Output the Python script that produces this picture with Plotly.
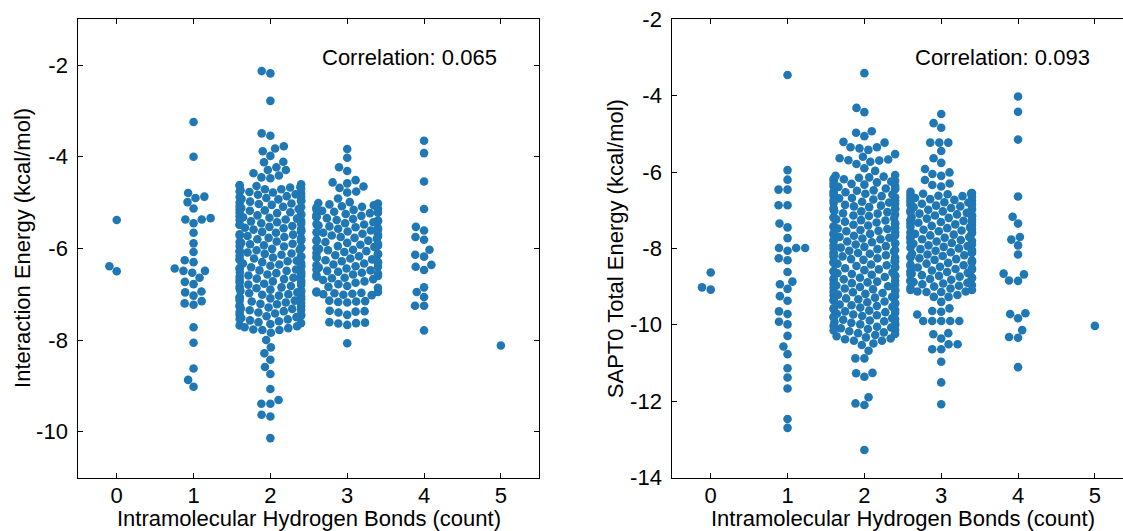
import numpy as np
import plotly.graph_objects as go

# ---------------- data ----------------
categories = [0, 1, 2, 3, 4, 5]
x_tick_labels = ["0", "1", "2", "3", "4", "5"]
ie_tick_vals = [-10, -8, -6, -4, -2]
ie_tick_labels = ["-10", "-8", "-6", "-4", "-2"]
sapt_tick_vals = [-14, -12, -10, -8, -6, -4, -2]
sapt_tick_labels = ["-14", "-12", "-10", "-8", "-6", "-4", "-2"]

x_title = "Intramolecular Hydrogen Bonds (count)"
ie_title = "Interaction Energy (kcal/mol)"
sapt_title = "SAPT0 Total Energy (kcal/mol)"
ie_corr_text = "Correlation: 0.065"
sapt_corr_text = "Correlation: 0.093"

# Interaction energy per H-bond count
ie_0 = [-5.38, -6.39, -6.50]
ie_1 = [-3.24, -4.00, -4.79, -4.87, -4.90, -4.99, -5.13, -5.34, -5.37, -5.37, -5.45,
        -5.66, -5.89, -6.08, -6.26, -6.30, -6.44, -6.49, -6.49, -6.53, -6.64, -6.73,
        -6.78, -6.94, -6.96, -7.03, -7.15, -7.20, -7.23, -7.72, -8.06, -8.62, -8.87, -9.02]
ie_2 = [-2.13, -2.18, -2.78, -3.49, -3.54, -3.77, -3.82, -3.88, -3.98, -4.11, -4.12,
        -4.23, -4.29, -4.29, -4.36, -4.41, -4.45, -4.47, -4.60, -4.62,
        -4.63, -4.64, -4.66, -4.67, -4.69, -4.71, -4.71, -4.73, -4.76, -4.77, -4.78,
        -4.80, -4.82, -4.83, -4.86, -4.87, -4.88, -4.90, -4.92, -4.93, -4.95, -4.97, -4.98,
        -5.00, -5.02, -5.03, -5.05, -5.08, -5.09, -5.10, -5.12, -5.14, -5.15, -5.17, -5.18,
        -5.21, -5.22, -5.23, -5.25, -5.27, -5.28, -5.30, -5.32, -5.33, -5.35, -5.37, -5.38,
        -5.40, -5.41, -5.43, -5.45, -5.46, -5.48, -5.49,
        -5.51, -5.53, -5.55, -5.56, -5.58, -5.59, -5.62, -5.63, -5.64, -5.66, -5.69, -5.70,
        -5.72, -5.73, -5.75, -5.77, -5.78, -5.80, -5.82, -5.83, -5.85, -5.86, -5.88, -5.90,
        -5.91, -5.93, -5.95, -5.96, -5.98, -5.99,
        -6.01, -6.03, -6.04, -6.06, -6.07, -6.09, -6.11, -6.12, -6.14, -6.16, -6.17, -6.19,
        -6.20, -6.22, -6.24, -6.25, -6.27, -6.28, -6.30, -6.32, -6.33, -6.35, -6.37, -6.38,
        -6.40, -6.41, -6.43, -6.45, -6.46, -6.48, -6.49,
        -6.51, -6.53, -6.54, -6.56, -6.57, -6.59, -6.61, -6.62, -6.64, -6.66, -6.67, -6.69,
        -6.70, -6.72, -6.74, -6.75, -6.77, -6.79, -6.80, -6.82, -6.83, -6.85, -6.87, -6.88,
        -6.90, -6.92, -6.93, -6.95, -6.96, -6.98,
        -7.00, -7.01, -7.03, -7.05, -7.06, -7.08, -7.09, -7.11, -7.13, -7.14, -7.16, -7.18,
        -7.19, -7.21, -7.22, -7.24, -7.26, -7.27, -7.29, -7.31, -7.32, -7.34, -7.35, -7.37,
        -7.39, -7.40, -7.42, -7.44, -7.45, -7.47, -7.48,
        -7.50, -7.52, -7.54, -7.55, -7.57, -7.59, -7.61, -7.63, -7.65, -7.68, -7.70, -7.72, -7.74,
        -7.77, -7.78, -7.78, -7.84, -8.00, -8.16, -8.29, -8.43, -8.59, -8.74, -9.07, -9.31,
        -9.39, -9.39, -9.63, -9.67, -10.14]
ie_3 = [-3.83, -4.02, -4.23, -4.31, -4.51, -4.56, -4.58, -4.65, -4.68, -4.76, -4.78, -4.91,
        -4.99, -5.01, -5.02, -5.04, -5.06, -5.08, -5.09, -5.11, -5.13, -5.15, -5.16, -5.18,
        -5.20, -5.22, -5.23, -5.25, -5.27, -5.29, -5.31, -5.32, -5.34, -5.36, -5.38, -5.39,
        -5.41, -5.43, -5.45, -5.47, -5.48,
        -5.50, -5.52, -5.54, -5.56, -5.57, -5.59, -5.61, -5.63, -5.65, -5.66, -5.68, -5.70,
        -5.72, -5.74, -5.75, -5.77, -5.79, -5.81, -5.83, -5.84, -5.86, -5.88, -5.90, -5.92,
        -5.94, -5.95, -5.97, -5.99,
        -6.01, -6.03, -6.04, -6.06, -6.08, -6.10, -6.12, -6.13, -6.15, -6.17, -6.19, -6.21,
        -6.22, -6.24, -6.26, -6.28, -6.30, -6.31, -6.33, -6.35, -6.37, -6.39, -6.40, -6.42,
        -6.44, -6.46, -6.48, -6.49,
        -6.51, -6.53, -6.55, -6.57, -6.58, -6.60, -6.62, -6.64, -6.65, -6.67, -6.69, -6.72,
        -6.75, -6.78,
        -6.82, -6.84, -6.86, -6.94, -6.95, -6.96, -6.97, -6.98, -6.99, -7.00, -7.01, -7.02,
        -7.14, -7.15, -7.16, -7.17, -7.18, -7.36, -7.37, -7.38, -7.40, -7.45, -7.61, -7.62,
        -7.63, -7.64, -7.67, -8.07]
ie_4 = [-3.65, -3.92, -4.54, -5.14, -5.53, -5.61, -5.75, -5.81, -6.03, -6.14, -6.18,
        -6.36, -6.40, -6.47, -6.85, -6.95, -7.06, -7.25, -7.25, -7.79]
ie_5 = [-8.12]

# SAPT0 total energy per H-bond count
sapt_0 = [-8.63, -9.02, -9.08]
sapt_1 = [-3.46, -5.95, -6.20, -6.46, -6.46, -6.87, -6.87, -7.35, -7.45, -7.73, -7.99,
          -7.99, -7.99, -8.06, -8.26, -8.31, -8.62, -8.87, -8.94, -9.06, -9.25, -9.37,
          -9.65, -9.72, -9.92, -9.99, -10.29, -10.57, -10.77, -11.14, -11.38, -11.67,
          -12.47, -12.70]
sapt_2 = [-3.41, -4.32, -4.43, -4.93, -4.97, -5.06, -5.21, -5.23, -5.35, -5.35, -5.38,
          -5.42, -5.53, -5.60, -5.64, -5.67, -5.69, -5.70, -5.73, -5.79, -5.90, -5.97,
          -6.08, -6.10,
          -6.12, -6.14, -6.15, -6.18, -6.19, -6.22, -6.23, -6.25, -6.27, -6.30, -6.31, -6.33,
          -6.36, -6.37, -6.39, -6.42, -6.43, -6.45, -6.48, -6.49,
          -6.51, -6.53, -6.56, -6.57, -6.59, -6.62, -6.63, -6.66, -6.68, -6.69, -6.72, -6.74,
          -6.75, -6.78, -6.80, -6.81, -6.84, -6.86, -6.88, -6.90, -6.92, -6.94, -6.96, -6.97, -6.99,
          -7.02, -7.03, -7.05, -7.08, -7.09, -7.11, -7.14, -7.15, -7.18, -7.20, -7.21, -7.24,
          -7.26, -7.27, -7.30, -7.32, -7.34, -7.36, -7.38, -7.40, -7.42, -7.44, -7.46, -7.48, -7.49,
          -7.52, -7.54, -7.55, -7.58, -7.60, -7.62, -7.64, -7.66, -7.67, -7.70, -7.72, -7.74,
          -7.76, -7.78, -7.80, -7.82, -7.84, -7.86, -7.88, -7.90, -7.92, -7.94, -7.96, -7.98,
          -8.00, -8.02, -8.04, -8.06, -8.08, -8.11, -8.12, -8.14, -8.16, -8.18, -8.21, -8.22,
          -8.24, -8.26, -8.28, -8.30, -8.33, -8.34, -8.36, -8.38, -8.40, -8.42, -8.44, -8.46, -8.48,
          -8.51, -8.52, -8.55, -8.57, -8.59, -8.61, -8.63, -8.65, -8.67, -8.69, -8.71, -8.73,
          -8.75, -8.77, -8.79, -8.81, -8.83, -8.85, -8.87, -8.89, -8.91, -8.93, -8.95, -8.97, -8.99,
          -9.01, -9.03, -9.05, -9.07, -9.09, -9.11, -9.13, -9.15, -9.17, -9.19, -9.21, -9.23,
          -9.25, -9.27, -9.29, -9.31, -9.33, -9.35, -9.37, -9.39, -9.41, -9.43, -9.45, -9.47, -9.49,
          -9.51, -9.53, -9.55, -9.57, -9.59, -9.61, -9.63, -9.65, -9.67, -9.69, -9.71, -9.73,
          -9.75, -9.77, -9.79, -9.81, -9.83, -9.85, -9.87, -9.89, -9.91, -9.93, -9.95, -9.97, -9.99,
          -10.01, -10.03, -10.05, -10.07, -10.09, -10.11, -10.13, -10.15, -10.17, -10.20,
          -10.22, -10.24, -10.27, -10.30, -10.33, -10.36,
          -10.38, -10.42, -10.42, -10.49, -10.53, -10.68, -10.88, -10.88, -11.26, -11.27,
          -11.36, -11.90, -12.06, -12.10, -13.28]
sapt_3 = [-4.48, -4.72, -4.84, -5.23, -5.23, -5.23, -5.45, -5.64, -5.76, -5.92, -6.01,
          -6.05, -6.10, -6.21, -6.30, -6.34, -6.38, -6.52, -6.57,
          -6.55, -6.56, -6.58, -6.60, -6.62, -6.63, -6.65, -6.68, -6.69, -6.71, -6.73, -6.75,
          -6.77, -6.79, -6.80, -6.83, -6.85, -6.86, -6.88, -6.90, -6.92, -6.94, -6.96, -6.98, -6.99,
          -7.01, -7.03, -7.05, -7.07, -7.09, -7.11, -7.13, -7.14, -7.16, -7.18, -7.20, -7.22,
          -7.24, -7.26, -7.28, -7.30, -7.31, -7.33, -7.35, -7.37, -7.39, -7.41, -7.43, -7.45, -7.47, -7.49,
          -7.51, -7.53, -7.55, -7.57, -7.58, -7.60, -7.62, -7.64, -7.66, -7.68, -7.70, -7.72,
          -7.74, -7.76, -7.78, -7.80, -7.82, -7.84, -7.86, -7.88, -7.90, -7.92, -7.94, -7.96, -7.98,
          -8.00, -8.02, -8.04, -8.06, -8.08, -8.10, -8.12, -8.14, -8.16, -8.18, -8.20, -8.22,
          -8.24, -8.26, -8.28, -8.30, -8.32, -8.34, -8.36, -8.38, -8.40, -8.42, -8.44, -8.46, -8.48,
          -8.50, -8.52, -8.54, -8.56, -8.58, -8.60, -8.62, -8.64, -8.66, -8.68, -8.70, -8.72,
          -8.74, -8.76, -8.78, -8.80, -8.82, -8.84, -8.86, -8.88, -8.90, -8.92, -8.94, -8.96,
          -8.98, -9.00, -9.03, -9.05,
          -9.09, -9.09, -9.13, -9.13, -9.14, -9.14, -9.22, -9.27, -9.27, -9.40, -9.57, -9.64,
          -9.66, -9.73, -9.90, -9.90, -9.90, -9.90, -9.90, -10.22, -10.25, -10.36, -10.51,
          -10.51, -10.64, -10.64, -10.97, -11.51, -12.08]
sapt_4 = [-4.02, -4.42, -5.15, -6.64, -7.17, -7.35, -7.70, -7.77, -7.92, -8.16, -8.66,
          -8.68, -8.84, -8.85, -9.70, -9.72, -9.83, -10.14, -10.32, -10.34, -11.11]
sapt_5 = [-10.03]

ie_groups = [ie_0, ie_1, ie_2, ie_3, ie_4, ie_5]
sapt_groups = [sapt_0, sapt_1, sapt_2, sapt_3, sapt_4, sapt_5]

# ---------------- layout geometry (pixels) ----------------
W, H = 1123, 531
L1, R1 = 78.3, 539.3          # left axes box
L2 = 672.3                    # right axes box (cut off at the right edge)
TOP, BOT = 19.3, 477.5
UX = (R1 - L1) / 6.0          # px per category unit
IE_RANGE = [-11, -1]
SAPT_RANGE = [-14, -2]
IE_UY = (BOT - TOP) / (IE_RANGE[1] - IE_RANGE[0])
SAPT_UY = (BOT - TOP) / (SAPT_RANGE[1] - SAPT_RANGE[0])
MSIZE = 8.6
RAD = MSIZE / 2.0
HALF_W = 0.4
COLOR = "#1f77b4"
FONT = "Liberation Sans, Arial, Helvetica, sans-serif"
FS = 22


def swarm_positions(center, values, ux, uy, r=RAD, half=HALF_W):
    """seaborn-style beeswarm computed in pixel space, then gutter-clipped."""
    vals = np.asarray(values, dtype=float)
    order = np.argsort(vals, kind="stable")
    ys = vals[order] * uy
    placed = []
    xs = np.zeros(len(vals))
    for k, y in enumerate(ys):
        neigh = []
        for xj, yj in reversed(placed):
            if (y - yj) < 2 * r:
                neigh.append((xj, yj))
            else:
                break
        cands = [0.0]
        left_first = True
        for xj, yj in neigh:
            dy = y - yj
            dx = np.sqrt(max((2 * r) ** 2 - dy ** 2, 0.0)) * 1.05
            if left_first:
                cands += [xj - dx, xj + dx]
            else:
                cands += [xj + dx, xj - dx]
            left_first = not left_first
        cands = sorted(cands, key=abs)
        chosen = cands[0]
        if neigh:
            for c in cands:
                ok = True
                for xj, yj in neigh:
                    if (xj - c) ** 2 + (yj - y) ** 2 < (2 * r) ** 2 - 1e-9:
                        ok = False
                        break
                if ok:
                    chosen = c
                    break
        placed.append((chosen, y))
        xs[order[k]] = chosen
    off = np.clip(xs / ux, -half, half)
    return center + off


fig = go.Figure()

for cat, vals in zip(categories, ie_groups):
    fig.add_trace(go.Scatter(
        x=swarm_positions(cat, vals, UX, IE_UY), y=vals, mode="markers",
        marker=dict(size=MSIZE, color=COLOR, line=dict(width=0)),
        xaxis="x", yaxis="y", showlegend=False, hoverinfo="skip"))

for cat, vals in zip(categories, sapt_groups):
    fig.add_trace(go.Scatter(
        x=swarm_positions(cat, vals, UX, SAPT_UY), y=vals, mode="markers",
        marker=dict(size=MSIZE, color=COLOR, line=dict(width=0)),
        xaxis="x2", yaxis="y2", showlegend=False, hoverinfo="skip"))

axis_common = dict(showline=True, linecolor="black", linewidth=1, ticks="inside",
                   ticklen=5, tickwidth=1, tickcolor="black", showgrid=False,
                   zeroline=False, tickfont=dict(family=FONT, size=FS, color="black"),
                   fixedrange=True, automargin=False)

x2_end = -0.5 + (W - L2) / UX

fig.update_layout(
    template="none",
    width=W, height=H, autosize=False,
    margin=dict(l=0, r=0, t=0, b=0, pad=0),
    paper_bgcolor="white", plot_bgcolor="white",
    font=dict(family=FONT, size=FS, color="black"),
    xaxis=dict(domain=[L1 / W, R1 / W], range=[-0.5, 5.5], tickmode="array",
               tickvals=categories, ticktext=x_tick_labels, mirror="ticks",
               ticklabelstandoff=-2, anchor="y", **axis_common),
    yaxis=dict(domain=[1 - BOT / H, 1 - TOP / H], range=IE_RANGE, tickmode="array",
               tickvals=ie_tick_vals, ticktext=ie_tick_labels, mirror="ticks",
               ticklabelstandoff=5, anchor="x", **axis_common),
    xaxis2=dict(domain=[L2 / W, 1.0], range=[-0.5, x2_end], tickmode="array",
                tickvals=categories, ticktext=x_tick_labels, mirror="ticks",
                ticklabelstandoff=-2, anchor="y2", **axis_common),
    yaxis2=dict(domain=[1 - BOT / H, 1 - TOP / H], range=SAPT_RANGE, tickmode="array",
                tickvals=sapt_tick_vals, ticktext=sapt_tick_labels, mirror=False,
                ticklabelstandoff=5, anchor="x2", **axis_common),
)

ann_font = dict(family=FONT, size=FS, color="black")
annotations = [
    dict(text=ie_corr_text, x=499 / W, y=1 - 57.6 / H, xref="paper", yref="paper",
         xanchor="right", yanchor="middle", showarrow=False, font=ann_font),
    dict(text=sapt_corr_text, x=1092 / W, y=1 - 57.6 / H, xref="paper", yref="paper",
         xanchor="right", yanchor="middle", showarrow=False, font=ann_font),
    dict(text=x_title, x=(L1 + R1) / 2 / W, y=1 - 518.6 / H, xref="paper", yref="paper",
         xanchor="center", yanchor="middle", showarrow=False, font=ann_font, borderpad=0),
    dict(text=x_title, x=(L2 + 3.0 * UX) / W, y=1 - 518.6 / H, xref="paper", yref="paper",
         xanchor="center", yanchor="middle", showarrow=False, font=ann_font, borderpad=0),
    dict(text=ie_title, x=22.5 / W, y=1 - (TOP + BOT) / 2 / H, xref="paper", yref="paper",
         xanchor="center", yanchor="middle", textangle=-90, showarrow=False, font=ann_font),
    dict(text=sapt_title, x=615.8 / W, y=1 - (TOP + BOT) / 2 / H, xref="paper", yref="paper",
         xanchor="center", yanchor="middle", textangle=-90, showarrow=False, font=ann_font),
]
fig.update_layout(annotations=annotations)

fig.write_html("out.html", config={"displayModeBar": False},
               post_script="document.body.style.margin='0';document.body.style.overflow='hidden';")
